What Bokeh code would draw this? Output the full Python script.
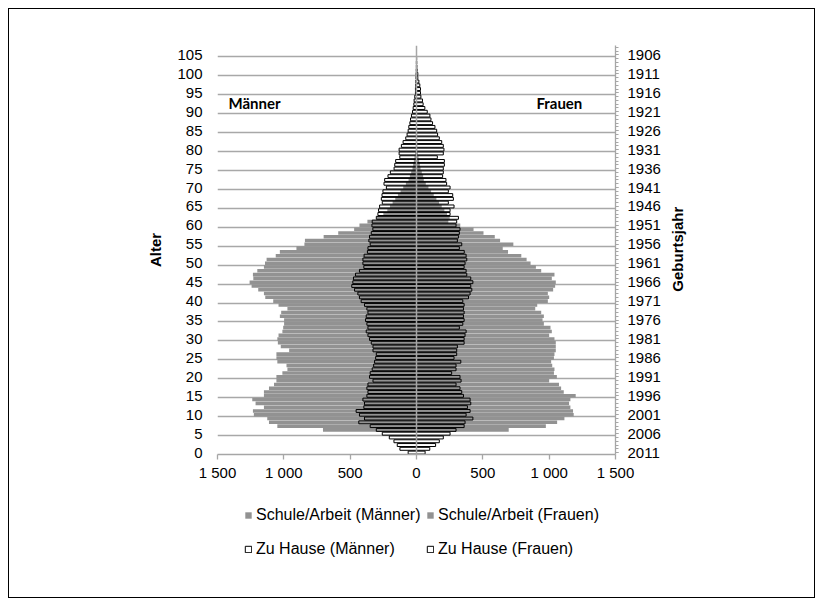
import math
from bokeh.plotting import figure
from bokeh.layouts import column, row
from bokeh.models import (Range1d, LinearAxis, FixedTicker, Span, Label, Legend,
                          LegendItem, ColumnDataSource, InlineStyleSheet, Spacer)
from bokeh.embed import file_html
from bokeh.resources import INLINE

# ---------------- data ----------------
ages = list(range(106))

men_work = [0, 0, 0, 0, 0, 0, 705, 1049, 1112, 1125,
            1226, 1233, 1150, 1213, 1238, 1150, 1150, 1112, 1074, 1056,
            1056, 1011, 973, 980, 1049, 1056, 1056, 960, 1023, 1045,
            1049, 1040, 1011, 1005, 998, 998, 1030, 1020, 973, 1040,
            1080, 1140, 1150, 1193, 1243, 1258, 1230, 1233, 1200, 1150,
            1142, 1130, 1061, 1030, 905, 845, 841, 700, 590, 470,
            430, 370, 300, 250, 220, 200, 180, 160, 140, 120,
            100, 80, 60, 50, 40, 30, 25, 20, 15, 10,
            5, 5, 5, 5, 5, 3, 3, 3, 3, 3,
            2, 2, 2, 2, 2, 1, 1, 1, 1, 1,
            0, 0, 0, 0, 0, 0]

men_home = [63, 125, 145, 170, 205, 258, 303, 349, 435, 392,
            430, 455, 397, 392, 404, 374, 366, 374, 366, 328,
            354, 349, 334, 323, 316, 308, 303, 328, 328, 341,
            354, 366, 379, 366, 374, 384, 379, 366, 374, 392,
            417, 430, 442, 467, 488, 480, 475, 460, 430, 397,
            404, 404, 395, 370, 366, 349, 359, 354, 341, 329,
            336, 334, 303, 291, 286, 278, 258, 265, 260, 253,
            227, 245, 240, 215, 197, 169, 164, 157, 126, 131,
            131, 114, 101, 81, 71, 63, 58, 50, 45, 38,
            30, 25, 20, 18, 13, 8, 8, 6, 5, 4,
            3, 2, 1, 1, 0, 0]

women_work = [0, 0, 0, 0, 0, 0, 695, 975, 1060, 1115,
              1185, 1180, 1160, 1150, 1160, 1200, 1110, 1090, 1074, 1000,
              1058, 1036, 1040, 1023, 1015, 1036, 1040, 1050, 1050, 1050,
              1040, 1000, 1020, 1010, 960, 950, 960, 940, 895, 910,
              990, 1000, 990, 1030, 1045, 1050, 1020, 1040, 940, 900,
              860, 830, 790, 690, 650, 730, 630, 590, 505, 430,
              330, 240, 250, 230, 210, 190, 170, 150, 130, 110,
              90, 70, 55, 50, 40, 30, 25, 20, 15, 10,
              5, 5, 5, 5, 5, 3, 3, 3, 3, 3,
              2, 2, 2, 2, 2, 1, 1, 1, 1, 1,
              0, 0, 0, 0, 0, 0]

women_home = [65, 100, 144, 172, 202, 253, 298, 359, 366, 425,
              374, 404, 384, 409, 404, 354, 341, 328, 298, 336,
              328, 265, 298, 298, 334, 283, 303, 303, 308, 359,
              359, 366, 374, 323, 349, 359, 354, 359, 354, 359,
              349, 392, 404, 417, 409, 425, 409, 379, 374, 359,
              366, 379, 374, 360, 323, 341, 308, 316, 323, 328,
              298, 303, 316, 253, 253, 283, 240, 278, 273, 240,
              253, 227, 222, 197, 202, 202, 210, 210, 157, 202,
              207, 202, 190, 172, 159, 152, 139, 121, 109, 101,
              81, 63, 50, 45, 33, 30, 30, 25, 18, 10,
              10, 5, 3, 2, 1, 0]

age_ticks = [0, 5, 10, 15, 20, 25, 30, 35, 40, 45, 50, 55, 60, 65, 70, 75, 80, 85, 90, 95, 100, 105]
birth_year_labels = ["2011", "2006", "2001", "1996", "1991", "1986", "1981", "1976", "1971",
                     "1966", "1961", "1956", "1951", "1946", "1941", "1936", "1931", "1926",
                     "1921", "1916", "1911", "1906"]
x_ticks = [-1500, -1000, -500, 0, 500, 1000, 1500]
x_tick_labels = ["1 500", "1 000", "500", "0", "500", "1 000", "1 500"]

series_labels = ["Schule/Arbeit (Männer)", "Schule/Arbeit (Frauen)",
                 "Zu Hause (Männer)", "Zu Hause (Frauen)"]

# ---------------- styles ----------------
FONT = "Liberation Sans"
GRAY = "#929292"
AXIS_GRAY = "#a6a6a6"

src = ColumnDataSource(dict(
    age=ages,
    mw=[-v for v in men_work],
    ww=women_work,
    mh=[-v for v in men_home],
    wh=women_home,
))


def add_bars(fig):
    r1 = fig.hbar(y="age", left="mw", right=0, height=0.94, source=src,
                  fill_color=GRAY, line_color=None)
    r2 = fig.hbar(y="age", left=0, right="ww", height=0.94, source=src,
                  fill_color=GRAY, line_color=None)
    r3 = fig.hbar(y="age", left="mh", right=0, height=0.78, source=src,
                  fill_color=None, line_color="black", line_width=1)
    r4 = fig.hbar(y="age", left=0, right="wh", height=0.78, source=src,
                  fill_color=None, line_color="black", line_width=1)
    return r1, r2, r3, r4


# ---------------- main chart ----------------
p = figure(width=807, height=475, output_backend="svg", toolbar_location=None,
           x_range=Range1d(-1500, 1500), y_range=Range1d(-0.5, 107.5),
           min_border_left=208, min_border_right=201, min_border_top=36,
           min_border_bottom=30, outline_line_color=None)
p.stylesheets = [InlineStyleSheet(css=":host { border: 1px solid #000000; border-bottom: none; }")]

add_bars(p)

# zero line
p.add_layout(Span(location=0, dimension="height", line_color=AXIS_GRAY, line_width=1.5))

# grids
p.xgrid.visible = False
p.ygrid.ticker = FixedTicker(ticks=[t - 0.5 for t in age_ticks])
p.ygrid.grid_line_color = "#a8a8a8"
p.ygrid.grid_line_width = 1.3

# bottom axis
xa = p.xaxis[0]
xa.ticker = FixedTicker(ticks=x_ticks)
xa.major_label_overrides = {t: lab for t, lab in zip(x_ticks, x_tick_labels)}
xa.axis_line_color = AXIS_GRAY
xa.axis_line_width = 1.3
xa.major_tick_line_color = AXIS_GRAY
xa.major_tick_line_width = 1.3
xa.major_tick_out = 5
xa.major_tick_in = 0
xa.minor_tick_line_color = None
xa.major_label_standoff = 4
xa.major_label_text_font = FONT
xa.major_label_text_font_size = "15px"
xa.major_label_text_color = "#000000"

# left axis
ya = p.yaxis[0]
ya.ticker = FixedTicker(ticks=age_ticks)
ya.axis_line_color = None
ya.major_tick_line_color = None
ya.major_tick_out = 0
ya.major_tick_in = 0
ya.minor_tick_line_color = None
ya.minor_tick_out = 0
ya.major_label_standoff = 15
ya.major_label_text_font = FONT
ya.major_label_text_font_size = "15px"
ya.major_label_text_color = "#000000"
ya.axis_label = "Alter"
ya.axis_label_text_font = FONT
ya.axis_label_text_font_style = "bold"
ya.axis_label_text_font_size = "15px"
ya.axis_label_text_color = "#000000"
ya.axis_label_standoff = 10

# right axis (birth years)
ra = LinearAxis(ticker=FixedTicker(ticks=age_ticks, minor_ticks=list(range(0, 108))),
                major_label_overrides={a: y for a, y in zip(age_ticks, birth_year_labels)})
ra.axis_line_color = AXIS_GRAY
ra.axis_line_width = 1.3
ra.major_tick_line_color = AXIS_GRAY
ra.major_tick_out = 3
ra.major_tick_in = 0
ra.minor_tick_line_color = AXIS_GRAY
ra.minor_tick_out = 3
ra.minor_tick_in = 0
ra.major_label_standoff = 9
ra.major_label_text_font = FONT
ra.major_label_text_font_size = "15px"
ra.major_label_text_color = "#000000"
p.add_layout(ra, "right")

# right-hand title, drawn as a rotated label of an otherwise invisible axis
TITLE_POS = 42.5
rt = LinearAxis(ticker=FixedTicker(ticks=[TITLE_POS], minor_ticks=[]),
                major_label_overrides={TITLE_POS: "Geburtsjahr"},
                major_label_orientation=math.pi / 2)
rt.axis_line_color = None
rt.major_tick_line_color = None
rt.major_tick_out = 0
rt.major_tick_in = 0
rt.minor_tick_line_color = None
rt.minor_tick_out = 0
rt.major_label_standoff = 14
rt.major_label_text_font = FONT
rt.major_label_text_font_style = "bold"
rt.major_label_text_font_size = "15px"
rt.major_label_text_color = "#000000"
p.add_layout(rt, "right")

# side labels
p.add_layout(Label(x=-1417, y=92.4, text="Männer", text_align="left", text_baseline="middle",
                   text_font="Lato", text_font_style="bold", text_font_size="15px",
                   text_color="#000000"))
p.add_layout(Label(x=1250, y=92.4, text="Frauen", text_align="right", text_baseline="middle",
                   text_font="Lato", text_font_style="bold", text_font_size="15px",
                   text_color="#000000"))

# ---------------- legend panel ----------------
pl = figure(width=807, height=115, output_backend="svg", toolbar_location=None,
            x_range=Range1d(-1500, 1500), y_range=Range1d(1000, 1001),
            min_border=0, outline_line_color=None,
            x_axis_type=None, y_axis_type=None)
pl.stylesheets = [InlineStyleSheet(css=":host { border: 1px solid #000000; border-top: none; }")]
pl.xgrid.visible = False
pl.ygrid.visible = False
l_mw, l_ww, l_mh, l_wh = add_bars(pl)


def make_legend(items, loc):
    return Legend(items=items, location=loc, orientation="horizontal",
                  glyph_width=8, glyph_height=8, label_standoff=4, spacing=5,
                  label_width=165, label_height=18, padding=0, margin=0,
                  border_line_color=None, background_fill_alpha=0,
                  label_text_font=FONT, label_text_font_size="16px",
                  label_text_color="#000000")


pl.add_layout(make_legend([LegendItem(label=series_labels[0], renderers=[l_mw]),
                           LegendItem(label=series_labels[1], renderers=[l_ww])], (27, 74)))
pl.add_layout(make_legend([LegendItem(label=series_labels[2], renderers=[l_mh]),
                           LegendItem(label=series_labels[3], renderers=[l_wh])], (27, 40)))

layout = column(Spacer(height=8),
                row(Spacer(width=8), column(p, pl, spacing=0), spacing=0),
                spacing=0)

open("out.html", "w").write(file_html(layout, INLINE))
